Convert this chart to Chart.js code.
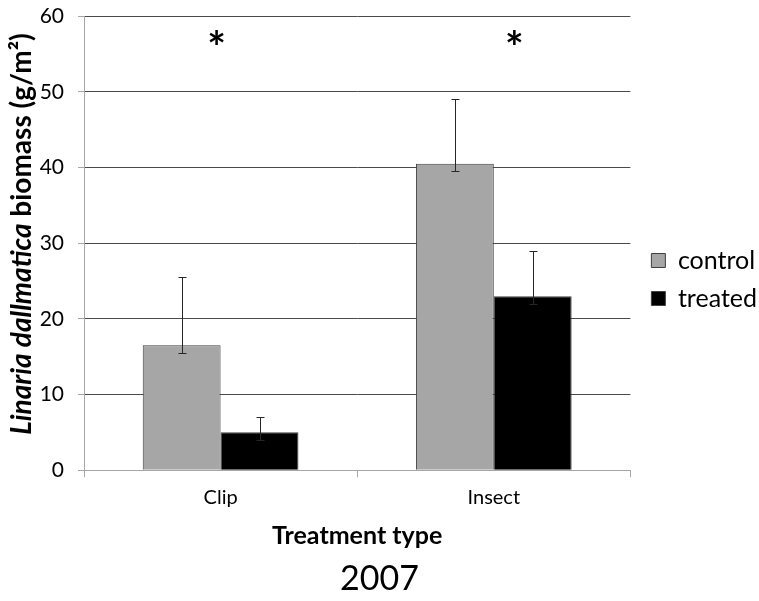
<!DOCTYPE html>
<html>
<head>
<meta charset="utf-8">
<script src="https://cdn.jsdelivr.net/npm/chart.js@4.4.0/dist/chart.umd.min.js"></script>
<style>
  html, body { margin: 0; padding: 0; background: #fff; }
  #wrap { width: 759px; height: 601px; }
</style>
</head>
<body>
<div id="wrap"><canvas id="biomass"></canvas></div>
<script>
(function () {
    'use strict';

    // DATA
    var categories = ['Clip', 'Insect'];
    var controlValues = [16.5, 40.5];
    var treatedValues = [5, 23];
    var controlErrHigh = [25.5, 49];
    var controlErrLow = [15.5, 39.5];
    var treatedErrHigh = [7, 29];
    var treatedErrLow = [4, 22];
    var yTicks = [0, 10, 20, 30, 40, 50, 60];
    var starPos = [-0.015, 1.075];
    var starValue = 57;

    var FONT = 'Lato';

    // ERROR BARS, DRAWN THROUGH THE SCALES
    var errorBars = {
        id: 'errorBars',
        afterDatasetsDraw: function (chart) {
            var ctx = chart.ctx;
            var y = chart.scales.y;
            var sets = [[controlErrLow, controlErrHigh], [treatedErrLow, treatedErrHigh]];
            ctx.save();
            ctx.strokeStyle = '#262626';
            ctx.lineWidth = 1;
            sets.forEach(function (s, di) {
                chart.getDatasetMeta(di).data.forEach(function (bar, i) {
                    var x = Math.round(bar.x) + 0.5;
                    var lo = Math.round(y.getPixelForValue(s[0][i])) + 0.5;
                    var hi = Math.round(y.getPixelForValue(s[1][i])) + 0.5;
                    ctx.beginPath();
                    ctx.moveTo(x, lo); ctx.lineTo(x, hi);
                    ctx.moveTo(x - 4, hi); ctx.lineTo(x + 4, hi);
                    ctx.moveTo(x - 4, lo); ctx.lineTo(x + 4, lo);
                    ctx.stroke();
                });
            });
            ctx.restore();
        }
    };

    // NUDGE THE LEGEND A LITTLE TO THE RIGHT, LIKE THE ORIGINAL
    var legendShift = {
        id: 'legendShift',
        afterLayout: function (chart) {
            if (chart.legend) {
                chart.legend.left += 8;
                chart.legend.right += 8;
            }
        }
    };

    // ASTERISKS AND THE MIXED-STYLE Y TITLE
    var extras = {
        id: 'extras',
        afterDraw: function (chart) {
            var ctx = chart.ctx;
            ctx.save();
            ctx.fillStyle = '#000';
            ctx.font = 'bold 44px ' + FONT;
            ctx.textAlign = 'center';
            ctx.textBaseline = 'middle';
            starPos.forEach(function (p) {
                ctx.fillText('*', chart.scales.x.getPixelForValue(p), chart.scales.y.getPixelForValue(starValue) + 10);
            });

            var partA = 'Linaria dallmatica';
            var partB = ' biomass (g/m\u00b2)';
            var fA = 'italic bold 28px ' + FONT;
            var fB = 'bold 28px ' + FONT;
            ctx.font = fA; var wA = ctx.measureText(partA).width;
            ctx.font = fB; var wB = ctx.measureText(partB).width;
            ctx.translate(22, 234);
            ctx.rotate(-Math.PI / 2);
            ctx.textAlign = 'left';
            ctx.textBaseline = 'middle';
            var start = -(wA + wB) / 2;
            ctx.font = fA; ctx.fillText(partA, start, 0);
            ctx.font = fB; ctx.fillText(partB, start + wA, 0);
            ctx.restore();
        }
    };

    new Chart(document.getElementById('biomass'), {
        type: 'bar',
        data: {
            labels: categories,
            datasets: [
                {
                    label: 'control',
                    data: controlValues,
                    backgroundColor: '#a6a6a6',
                    borderColor: '#3f3f3f',
                    borderWidth: 1
                },
                {
                    label: 'treated',
                    data: treatedValues,
                    backgroundColor: '#000000',
                    borderColor: '#3f3f3f',
                    borderWidth: 1
                }
            ]
        },
        options: {
            responsive: true,
            maintainAspectRatio: false,
            animation: false,
            devicePixelRatio: 1,
            layout: { padding: { left: 0, top: 12, right: 0, bottom: 2 } },
            datasets: { bar: { categoryPercentage: 0.57, barPercentage: 1 } },
            scales: {
                x: {
                    offset: true,
                    grid: {
                        offset: true,
                        drawOnChartArea: false,
                        drawTicks: true,
                        tickLength: 7,
                        tickColor: '#a6a6a6'
                    },
                    border: { color: '#a6a6a6' },
                    ticks: { color: '#000', font: { family: FONT, size: 20 }, padding: 8 },
                    title: {
                        display: true,
                        text: 'Treatment type',
                        color: '#000',
                        font: { family: FONT, size: 25, weight: 'bold' },
                        padding: { top: 4, bottom: 5 }
                    }
                },
                y: {
                    min: 0,
                    max: 60,
                    afterBuildTicks: function (scale) {
                        scale.ticks = yTicks.map(function (v) { return { value: v }; });
                    },
                    afterFit: function (scale) { scale.width = 84; },
                    grid: {
                        color: function (c) { return c.tick && c.tick.value === 0 ? '#a6a6a6' : '#4a4a4a'; },
                        tickColor: '#a6a6a6',
                        tickLength: 6
                    },
                    border: { color: '#a6a6a6' },
                    ticks: { color: '#000', font: { family: FONT, size: 21, lineHeight: 0.2 }, padding: 14 }
                }
            },
            plugins: {
                legend: {
                    position: 'right',
                    align: 'start',
                    title: { display: true, text: ' ', padding: { top: 211, bottom: 0 }, font: { size: 10 } },
                    labels: {
                        color: '#000',
                        font: { family: FONT, size: 25 },
                        boxWidth: 14,
                        boxHeight: 14,
                        padding: 13,
                        generateLabels: function (chart) {
                            return chart.data.datasets.map(function (d, i) {
                                return {
                                    text: d.label,
                                    fillStyle: d.backgroundColor,
                                    strokeStyle: '#3f3f3f',
                                    lineWidth: 1,
                                    fontColor: '#000',
                                    datasetIndex: i
                                };
                            });
                        }
                    }
                },
                title: {
                    display: true,
                    position: 'bottom',
                    text: '2007',
                    color: '#000',
                    font: { family: FONT, size: 34, weight: 'normal' },
                    padding: { top: 2, bottom: 0 }
                },
                tooltip: { enabled: false }
            }
        },
        plugins: [legendShift, errorBars, extras]
    });
})();
</script>
</body>
</html>
